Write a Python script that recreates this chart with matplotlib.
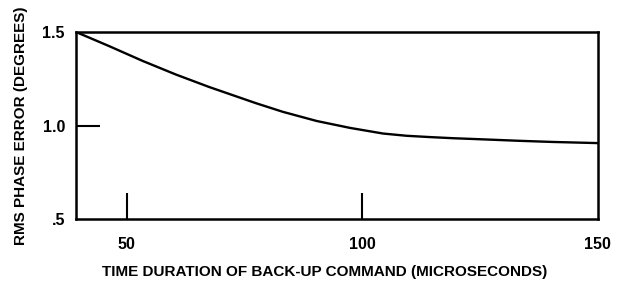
import numpy as np
import matplotlib.pyplot as plt

# curve
t = [39.2, 46.2, 53.4, 60.5, 67.5, 77.5, 83.2, 90.4, 97.5, 104.5, 109.5, 114.5, 119.4, 126.6, 133.6, 140.6, 150]
err = [1.5, 1.425, 1.345, 1.272, 1.206, 1.119, 1.073, 1.024, 0.987, 0.957, 0.945, 0.938, 0.932, 0.925, 0.918, 0.912, 0.906]

xticks = [50, 100, 150]
yticks = [0.5, 1.0, 1.5]
ylabels = ['.5', '1.0', '1.5']

plt.rcParams['font.family'] = ['Liberation Sans', 'DejaVu Sans']
plt.rcParams['font.weight'] = 'bold'

fig = plt.figure(figsize=(6.17, 2.82), dpi=100)
ax = fig.add_axes([76/617, 1-219/282, 522/617, 187/282])
ax.plot(t, err, color='black', lw=1.7, solid_joinstyle='round')
ax.set_xlim(39.2, 150.2)
ax.set_ylim(0.5, 1.5)

ax.set_xticks(xticks)
ax.set_xticklabels([str(v) for v in xticks])
ax.set_yticks(yticks)
ax.set_yticklabels(ylabels)
ax.tick_params(axis='x', direction='in', length=19, width=1.5, pad=13, labelsize=11.5)
ax.tick_params(axis='y', direction='in', length=17, width=1.5, pad=8, labelsize=11.5)
# ticks at the frame edges only carry labels
ax.xaxis.get_major_ticks()[-1].tick1line.set_visible(False)
ax.yaxis.get_major_ticks()[0].tick1line.set_visible(False)
ax.yaxis.get_major_ticks()[-1].tick1line.set_visible(False)
for s in ax.spines.values():
    s.set_linewidth(1.8)

ax.set_xlabel('TIME DURATION OF BACK-UP COMMAND (MICROSECONDS)', fontsize=11, fontweight='bold')
ax.xaxis.set_label_coords(0.477, -0.246)
ax.xaxis.label.set_va('top')
ax.set_ylabel('RMS PHASE ERROR (DEGREES)', fontsize=11, fontweight='bold')
ax.yaxis.set_label_coords(-0.092, 0.5)

fig.savefig('out.png', dpi=100)
